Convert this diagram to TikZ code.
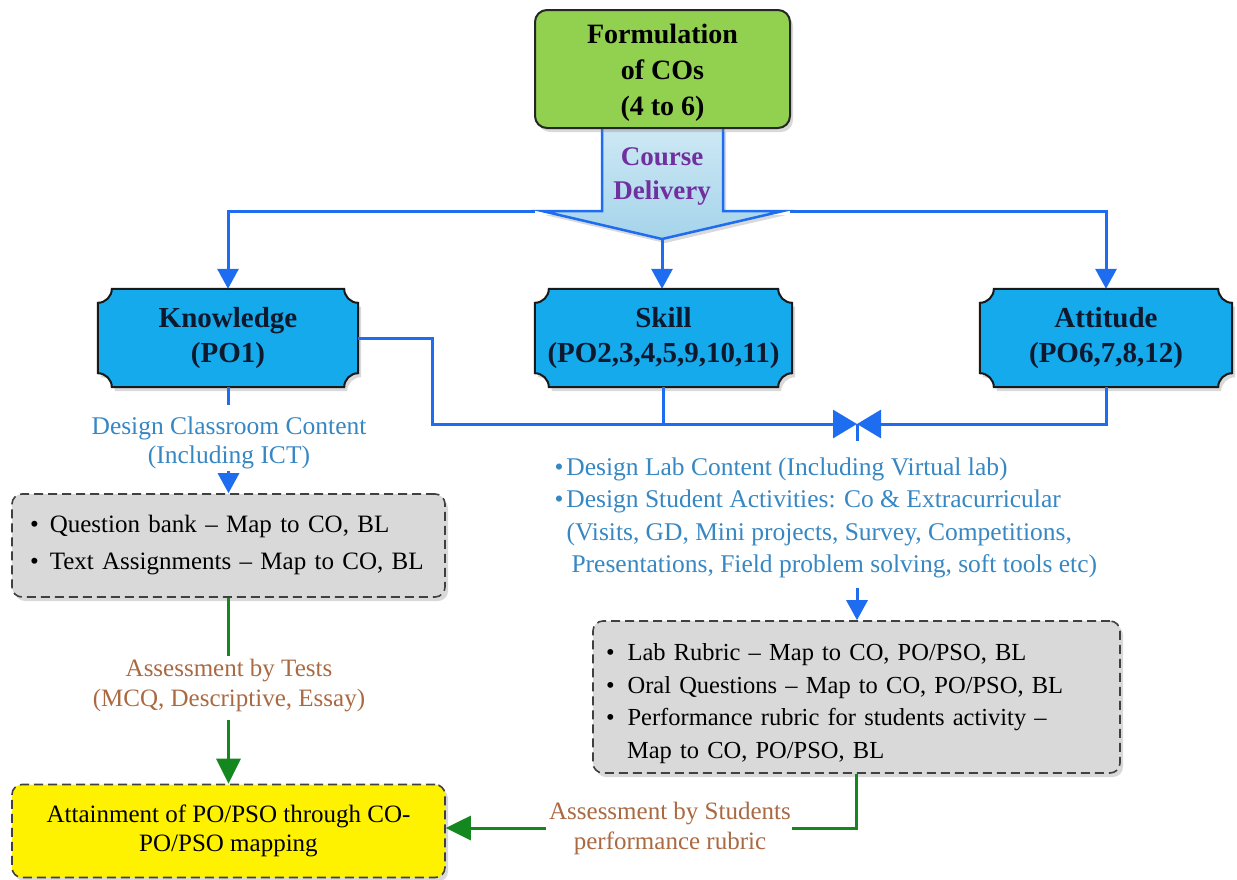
\documentclass[tikz,border=0pt]{standalone}
\usepackage{fontspec}
\setmainfont{Liberation Serif}
\usetikzlibrary{arrows.meta,shadows,backgrounds,calc}
\definecolor{cgreen}{RGB}{146,208,80}
\definecolor{cplaque}{RGB}{20,170,235}
\definecolor{cblue}{RGB}{30,108,240}
\definecolor{cbtext}{RGB}{55,135,195}
\definecolor{cbrown}{RGB}{170,105,65}
\definecolor{cpurple}{RGB}{112,48,160}
\definecolor{cgray}{RGB}{217,217,217}
\definecolor{cgconn}{RGB}{20,135,30}
\definecolor{carrowA}{RGB}{205,232,244}
\definecolor{carrowB}{RGB}{165,212,234}
\definecolor{cplqtext}{RGB}{15,25,45}
\newcommand\plaquebg[1]{%
  \begin{pgfonlayer}{background}
  \draw[plaqueline] ([xshift=14pt]#1.north west) -- ([xshift=-14pt]#1.north east)
    arc[start angle=180,end angle=270,radius=14pt]
    -- ([yshift=14pt]#1.south east) arc[start angle=90,end angle=180,radius=14pt]
    -- ([xshift=14pt]#1.south west) arc[start angle=0,end angle=90,radius=14pt]
    -- ([yshift=-14pt]#1.north west) arc[start angle=270,end angle=360,radius=14pt]
    -- cycle;
  \end{pgfonlayer}}
\tikzset{
  shd/.style={drop shadow={shadow xshift=3pt,shadow yshift=-4pt,opacity=0.3}},
  titlebox/.style={draw=black!85,line width=2pt,fill=cgreen,rounded corners=12pt,
    minimum width=255pt,minimum height=118pt,inner sep=0pt,align=center,
    font=\fontsize{28}{36}\selectfont\bfseries,shd},
  plq/.style={minimum height=98pt,inner sep=0pt,align=center,text=cplqtext,
    font=\fontsize{29}{35}\selectfont\bfseries},
  plaqueline/.style={draw=black!90,line width=2pt,fill=cplaque,shd},
  dbox/.style={draw=black!75,line width=1.6pt,dash pattern=on 9pt off 5pt,
    rounded corners=10pt,fill=cgray,inner sep=0pt,align=left,shd},
  ybox/.style={draw=black!75,line width=1.6pt,dash pattern=on 9pt off 5pt,
    rounded corners=10pt,fill=yellow,inner sep=0pt,align=center,
    font=\fontsize{25}{29}\selectfont,shd},
  conn/.style={draw=cblue,line width=3pt},
  gconn/.style={draw=cgconn,line width=3pt},
  barrow/.style={-{Triangle[width=21pt,length=20pt]}},
  bow/.style={-{Triangle[width=28pt,length=24pt]}},
  garrow/.style={-{Triangle[width=24pt,length=25pt]}},
  btext/.style={text=cbtext,align=center,font=\fontsize{25.5}{29}\selectfont},
  brtext/.style={text=cbrown,align=center,font=\fontsize{25}{30}\selectfont},
}
\begin{document}
\begin{tikzpicture}[x=1pt,y=1pt]
\useasboundingbox (0,0) rectangle (1237,-879);

% block arrow "Course Delivery"
\draw[line width=2.5pt,draw=cblue,top color=carrowA,bottom color=carrowB,line join=miter,shd]
  (602,-128) -- (602,-211) -- (542,-211) -- (662,-239) -- (783,-211) -- (723,-211) -- (723,-128);
\coordinate (cdL) at (535,-211);
\coordinate (cdR) at (790,-211);
\coordinate (cdT) at (662,-239);

\node[titlebox] (title) at (662.5,-69) {\rule{0pt}{26pt}Formulation\\of COs\\(4 to 6)};
\node[text=cpurple,align=center,font=\fontsize{27}{34}\selectfont\bfseries] (cd) at (662,-176) {Course\\Delivery};

% plaques
\node[plq,minimum width=260pt] (know) at (228,-338) {Knowledge\\(PO1)};
\node[plq,minimum width=257pt] (skill) at (663.5,-338) {Skill\\(PO2,3,4,5,9,10,11)};
\node[plq,minimum width=252pt] (att) at (1106,-338) {Attitude\\(PO6,7,8,12)};
\plaquebg{know}
\plaquebg{skill}
\plaquebg{att}

\coordinate (J) at (857,-424);

% labels and boxes
\node[btext] (clab) at (229,-443) {Design Classroom Content\\(Including ICT)};
\node[dbox,minimum width=433pt,minimum height=103pt,text width=397pt,
  font=\fontsize{25}{37}\selectfont] (box1) at (228.5,-545.5)
  {\textbullet\hspace{11pt}Question bank – Map to CO, BL\\
   \textbullet\hspace{11pt}Text Assignments – Map to CO, BL};

\node[text=cbtext,font=\fontsize{25.5}{32.5}\selectfont,align=left,anchor=west] (llab) at (551,-518)
  {\textbullet\hspace{3pt}Design Lab Content (Including Virtual lab)\\
   \textbullet\hspace{3pt}Design Student Activities: Co \& Extracurricular\\
   \hspace*{12pt}(Visits, GD, Mini projects, Survey, Competitions,\\
   \hspace*{17pt}Presentations, Field problem solving, soft tools etc)};

\node[dbox,minimum width=527pt,minimum height=152pt,text width=501pt,
  font=\fontsize{24.5}{32.5}\selectfont] (box2) at (856.5,-697)
  {\rule{0pt}{30pt}\textbullet\hspace{13pt}Lab Rubric – Map to CO, PO/PSO, BL\\
   \textbullet\hspace{13pt}Oral Questions – Map to CO, PO/PSO, BL\\
   \textbullet\hspace{13pt}Performance rubric for students activity –\\
   \hspace*{21pt}Map to CO, PO/PSO, BL};

\node[brtext] (tlab) at (229,-686) {Assessment by Tests\\(MCQ, Descriptive, Essay)};
\node[brtext] (slab) at (670,-828) {Assessment by Students\\performance rubric};

\node[ybox,minimum width=433pt,minimum height=93pt] (yel) at (228.5,-831)
  {Attainment of PO/PSO through CO-\\PO/PSO mapping};

% blue connectors
\draw[conn,barrow] (cdL) -| (know.north);
\draw[conn,barrow] (cdR) -| (att.north);
\draw[conn,barrow] (cdT) -- (cdT |- skill.north);
\draw[conn,bow] (know.east) -- ++(74,0) |- (J);
\draw[conn] (skill.south) -- (skill.south |- J);
\draw[conn,bow] (att.south) |- (J);
\draw[conn] (J) -- ++(0,-17);
\coordinate (a2s) at (857,-588);
\draw[conn,barrow] (a2s) -- (a2s |- box2.north);
\draw[conn] (know.south) -- ++(0,-18);
\coordinate (a1s) at (228.5,-471);
\draw[conn,barrow] (a1s) -- (a1s |- box1.north);

% green connectors
\draw[gconn] (box1.south) -- ++(0,-58);
\coordinate (g1s) at (228.5,-720);
\draw[gconn,garrow] (g1s) -- (g1s |- yel.north);
\coordinate (g2e) at (792,-828);
\draw[gconn] (box2.south) |- (g2e);
\coordinate (g3s) at (546,-828);
\draw[gconn,garrow] (g3s) -- (g3s -| yel.east);
\end{tikzpicture}
\end{document}
